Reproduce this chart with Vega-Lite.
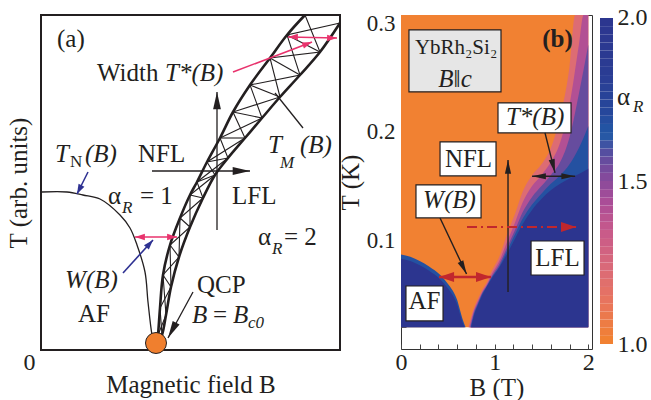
{
"$schema": "https://vega.github.io/schema/vega-lite/v6.json",
"padding": {"left": 5, "top": 5, "right": 0, "bottom": 0},
"background": "white",
"config": {
  "font": "Liberation Serif",
  "axis": {"grid": false, "labelFont": "Liberation Serif", "titleFont": "Liberation Serif", "labelColor": "#231f20", "titleColor": "#231f20", "titleFontWeight": "normal", "tickColor": "#444", "domainColor": "#444"},
  "text": {"font": "Liberation Serif", "color": "#231f20"}
},
"datasets": {
  "a_tn": [{"i":0,"x":1,"y":158},{"i":1,"x":26,"y":158},{"i":2,"x":42,"y":155},{"i":3,"x":59,"y":151},{"i":4,"x":79,"y":135},{"i":5,"x":89,"y":122},{"i":6,"x":96,"y":105},{"i":7,"x":104,"y":78},{"i":8,"x":107,"y":48},{"i":9,"x":111,"y":15},{"i":10,"x":113,"y":7}],
  "a_band": [
    {"s":"L","i":0,"x":264,"y":335},{"s":"L","i":1,"x":246,"y":315},{"s":"L","i":2,"x":229,"y":292},{"s":"L","i":3,"x":209,"y":265},{"s":"L","i":4,"x":192,"y":238},{"s":"L","i":5,"x":179,"y":212},{"s":"L","i":6,"x":166,"y":188},{"s":"L","i":7,"x":156,"y":168},{"s":"L","i":8,"x":149,"y":155},{"s":"L","i":9,"x":139,"y":132},{"s":"L","i":10,"x":129,"y":105},{"s":"L","i":11,"x":122,"y":75},{"s":"L","i":12,"x":119,"y":42},{"s":"L","i":13,"x":117,"y":15},{"s":"L","i":14,"x":116,"y":7},
    {"s":"R","i":0,"x":299,"y":327},{"s":"R","i":1,"x":279,"y":298},{"s":"R","i":2,"x":259,"y":275},{"s":"R","i":3,"x":239,"y":253},{"s":"R","i":4,"x":221,"y":232},{"s":"R","i":5,"x":204,"y":212},{"s":"R","i":6,"x":187,"y":192},{"s":"R","i":7,"x":174,"y":175},{"s":"R","i":8,"x":162,"y":152},{"s":"R","i":9,"x":149,"y":123},{"s":"R","i":10,"x":138,"y":93},{"s":"R","i":11,"x":130,"y":63},{"s":"R","i":12,"x":125,"y":35},{"s":"R","i":13,"x":121,"y":15},{"s":"R","i":14,"x":117,"y":7}
  ],
  "a_hatch": [
    {"s":"A","i":0,"x":264,"y":335},{"s":"A","i":1,"x":279,"y":298},{"s":"A","i":2,"x":229,"y":292},{"s":"A","i":3,"x":239,"y":253},{"s":"A","i":4,"x":192,"y":238},{"s":"A","i":5,"x":204,"y":212},{"s":"A","i":6,"x":166,"y":188},{"s":"A","i":7,"x":174,"y":175},{"s":"A","i":8,"x":149,"y":155},{"s":"A","i":9,"x":149,"y":123},{"s":"A","i":10,"x":129,"y":105},{"s":"A","i":11,"x":130,"y":63},{"s":"A","i":12,"x":119,"y":42},{"s":"A","i":13,"x":121,"y":15},{"s":"A","i":14,"x":116,"y":7},
    {"s":"B","i":0,"x":299,"y":327},{"s":"B","i":1,"x":246,"y":315},{"s":"B","i":2,"x":259,"y":275},{"s":"B","i":3,"x":209,"y":265},{"s":"B","i":4,"x":221,"y":232},{"s":"B","i":5,"x":179,"y":212},{"s":"B","i":6,"x":187,"y":192},{"s":"B","i":7,"x":156,"y":168},{"s":"B","i":8,"x":162,"y":152},{"s":"B","i":9,"x":139,"y":132},{"s":"B","i":10,"x":138,"y":93},{"s":"B","i":11,"x":122,"y":75},{"s":"B","i":12,"x":125,"y":35},{"s":"B","i":13,"x":117,"y":15},{"s":"B","i":14,"x":117,"y":7},
    {"s":"r1","i":0,"x":246,"y":315},{"s":"r1","i":1,"x":279,"y":298},
    {"s":"r2","i":0,"x":229,"y":292},{"s":"r2","i":1,"x":259,"y":275},
    {"s":"r3","i":0,"x":209,"y":265},{"s":"r3","i":1,"x":239,"y":253},
    {"s":"r4","i":0,"x":192,"y":238},{"s":"r4","i":1,"x":221,"y":232},
    {"s":"r5","i":0,"x":179,"y":212},{"s":"r5","i":1,"x":204,"y":212},
    {"s":"r6","i":0,"x":166,"y":188},{"s":"r6","i":1,"x":187,"y":192},
    {"s":"r7","i":0,"x":156,"y":168},{"s":"r7","i":1,"x":174,"y":175},
    {"s":"r8","i":0,"x":149,"y":155},{"s":"r8","i":1,"x":162,"y":152},
    {"s":"r9","i":0,"x":139,"y":132},{"s":"r9","i":1,"x":149,"y":123},
    {"s":"r10","i":0,"x":129,"y":105},{"s":"r10","i":1,"x":138,"y":93},
    {"s":"r11","i":0,"x":122,"y":75},{"s":"r11","i":1,"x":130,"y":63}
  ],
  "a_blk": [
    {"s":"up","i":0,"x":176,"y":120},{"s":"up","i":1,"x":176,"y":258},
    {"s":"rt","i":0,"x":111,"y":179},{"s":"rt","i":1,"x":209,"y":179},
    {"s":"tm","i":0,"x":262,"y":222},{"s":"tm","i":1,"x":234,"y":257},
    {"s":"qcp","i":0,"x":152,"y":58},{"s":"qcp","i":1,"x":127,"y":12}
  ],
  "a_hblk": [{"x":176,"y":258,"dir":0},{"x":209,"y":179,"dir":90},{"x":127,"y":12,"dir":208}],
  "a_pink": [
    {"s":"top","i":0,"x":247,"y":313},{"s":"top","i":1,"x":296,"y":312},
    {"s":"ptr","i":0,"x":192,"y":278},{"s":"ptr","i":1,"x":271,"y":308},
    {"s":"w","i":0,"x":94,"y":113},{"s":"w","i":1,"x":136,"y":113}
  ],
  "a_hpink": [{"x":247,"y":313,"dir":270},{"x":296,"y":312,"dir":90},{"x":271,"y":308,"dir":69},{"x":94,"y":113,"dir":270},{"x":136,"y":113,"dir":90}],
  "a_blue": [
    {"s":"tn","i":0,"x":47,"y":178},{"s":"tn","i":1,"x":36,"y":156},
    {"s":"w","i":0,"x":82,"y":77},{"s":"w","i":1,"x":112,"y":110}
  ],
  "a_hblue": [{"x":36,"y":156,"dir":207},{"x":112,"y":110,"dir":42}],
  "a_qcp": [{"x":115,"y":7}],
  "a_norm": [{"t":"(a)","x":16,"y":303},{"t":"Width","x":56,"y":269},{"t":"NFL","x":97,"y":188},{"t":"α","x":67,"y":146},{"t":"= 1","x":99,"y":146},{"t":"LFL","x":191,"y":146},{"t":"α","x":217,"y":105},{"t":"= 2","x":243,"y":105},{"t":"AF","x":37,"y":28},{"t":"QCP","x":156,"y":57},{"t":"=","x":172,"y":27}],
  "a_ital": [{"t":"T*(B)","x":124,"y":269},{"t":"T","x":14,"y":188},{"t":"(B)","x":44,"y":188},{"t":"T","x":227,"y":197},{"t":"(B)","x":259,"y":197},{"t":"W(B)","x":24,"y":62},{"t":"B","x":151,"y":27},{"t":"B","x":192,"y":27}],
  "a_subn": [{"t":"N","x":29,"y":183}],
  "a_subi": [{"t":"M","x":239,"y":182},{"t":"R","x":81,"y":137},{"t":"R","x":231,"y":96},{"t":"c0","x":207,"y":22}],
  "bg": [{"B":0,"B2":2,"T":0.02,"T2":0.3074,"a":1}],
  "h1": [{"s":"R","lvl":1.2,"B":0.72,"T":0.02},{"s":"R","lvl":1.2,"B":0.75,"T":0.03},{"s":"R","lvl":1.2,"B":0.78,"T":0.038},{"s":"R","lvl":1.2,"B":0.82,"T":0.046},{"s":"R","lvl":1.2,"B":0.87,"T":0.055},{"s":"R","lvl":1.2,"B":0.92,"T":0.062},{"s":"R","lvl":1.2,"B":0.97,"T":0.072},{"s":"R","lvl":1.2,"B":1.05,"T":0.085},{"s":"R","lvl":1.2,"B":1.13,"T":0.105},{"s":"R","lvl":1.2,"B":1.22,"T":0.125},{"s":"R","lvl":1.2,"B":1.3,"T":0.145},{"s":"R","lvl":1.2,"B":1.4,"T":0.16},{"s":"R","lvl":1.2,"B":1.5,"T":0.17},{"s":"R","lvl":1.2,"B":1.6,"T":0.185},{"s":"R","lvl":1.2,"B":1.7,"T":0.214},{"s":"R","lvl":1.2,"B":1.8,"T":0.26},{"s":"R","lvl":1.2,"B":1.86,"T":0.3074},{"s":"R","lvl":1.2,"B":2,"T":0.3074}],
  "h2": [{"s":"R","lvl":1.4,"B":0.73,"T":0.02},{"s":"R","lvl":1.4,"B":0.75,"T":0.027},{"s":"R","lvl":1.4,"B":0.78,"T":0.036},{"s":"R","lvl":1.4,"B":0.82,"T":0.044},{"s":"R","lvl":1.4,"B":0.87,"T":0.053},{"s":"R","lvl":1.4,"B":0.92,"T":0.06},{"s":"R","lvl":1.4,"B":0.97,"T":0.069},{"s":"R","lvl":1.4,"B":1.05,"T":0.081},{"s":"R","lvl":1.4,"B":1.13,"T":0.098},{"s":"R","lvl":1.4,"B":1.22,"T":0.117},{"s":"R","lvl":1.4,"B":1.3,"T":0.135},{"s":"R","lvl":1.4,"B":1.4,"T":0.15},{"s":"R","lvl":1.4,"B":1.5,"T":0.16},{"s":"R","lvl":1.4,"B":1.6,"T":0.172},{"s":"R","lvl":1.4,"B":1.7,"T":0.19},{"s":"R","lvl":1.4,"B":1.8,"T":0.225},{"s":"R","lvl":1.4,"B":1.9,"T":0.28},{"s":"R","lvl":1.4,"B":1.95,"T":0.3074},{"s":"R","lvl":1.4,"B":2,"T":0.3074}],
  "h3": [{"s":"R","lvl":1.55,"B":0.74,"T":0.02},{"s":"R","lvl":1.55,"B":0.78,"T":0.034},{"s":"R","lvl":1.55,"B":0.82,"T":0.042},{"s":"R","lvl":1.55,"B":0.87,"T":0.052},{"s":"R","lvl":1.55,"B":0.92,"T":0.059},{"s":"R","lvl":1.55,"B":0.97,"T":0.067},{"s":"R","lvl":1.55,"B":1.05,"T":0.078},{"s":"R","lvl":1.55,"B":1.13,"T":0.093},{"s":"R","lvl":1.55,"B":1.22,"T":0.11},{"s":"R","lvl":1.55,"B":1.3,"T":0.126},{"s":"R","lvl":1.55,"B":1.4,"T":0.14},{"s":"R","lvl":1.55,"B":1.5,"T":0.15},{"s":"R","lvl":1.55,"B":1.6,"T":0.16},{"s":"R","lvl":1.55,"B":1.7,"T":0.172},{"s":"R","lvl":1.55,"B":1.8,"T":0.195},{"s":"R","lvl":1.55,"B":1.9,"T":0.235},{"s":"R","lvl":1.55,"B":2,"T":0.28}],
  "h4": [{"s":"R","lvl":1.66,"B":0.745,"T":0.02},{"s":"R","lvl":1.66,"B":0.78,"T":0.032},{"s":"R","lvl":1.66,"B":0.82,"T":0.041},{"s":"R","lvl":1.66,"B":0.87,"T":0.051},{"s":"R","lvl":1.66,"B":0.92,"T":0.058},{"s":"R","lvl":1.66,"B":0.97,"T":0.066},{"s":"R","lvl":1.66,"B":1.05,"T":0.076},{"s":"R","lvl":1.66,"B":1.13,"T":0.09},{"s":"R","lvl":1.66,"B":1.22,"T":0.106},{"s":"R","lvl":1.66,"B":1.3,"T":0.12},{"s":"R","lvl":1.66,"B":1.4,"T":0.133},{"s":"R","lvl":1.66,"B":1.5,"T":0.143},{"s":"R","lvl":1.66,"B":1.6,"T":0.152},{"s":"R","lvl":1.66,"B":1.7,"T":0.16},{"s":"R","lvl":1.66,"B":1.8,"T":0.17},{"s":"R","lvl":1.66,"B":1.9,"T":0.185},{"s":"R","lvl":1.66,"B":2,"T":0.205},
    {"s":"L","lvl":1.66,"B":0,"T":0.087},{"s":"L","lvl":1.66,"B":0.1,"T":0.085},{"s":"L","lvl":1.66,"B":0.2,"T":0.081},{"s":"L","lvl":1.66,"B":0.3,"T":0.076},{"s":"L","lvl":1.66,"B":0.42,"T":0.068},{"s":"L","lvl":1.66,"B":0.5,"T":0.06},{"s":"L","lvl":1.66,"B":0.55,"T":0.054},{"s":"L","lvl":1.66,"B":0.6,"T":0.045},{"s":"L","lvl":1.66,"B":0.63,"T":0.036},{"s":"L","lvl":1.66,"B":0.66,"T":0.027},{"s":"L","lvl":1.66,"B":0.69,"T":0.02}],
  "h5": [{"s":"R","lvl":2,"B":0.75,"T":0.02},{"s":"R","lvl":2,"B":0.78,"T":0.031},{"s":"R","lvl":2,"B":0.82,"T":0.04},{"s":"R","lvl":2,"B":0.87,"T":0.05},{"s":"R","lvl":2,"B":0.92,"T":0.058},{"s":"R","lvl":2,"B":0.97,"T":0.065},{"s":"R","lvl":2,"B":1.05,"T":0.075},{"s":"R","lvl":2,"B":1.13,"T":0.087},{"s":"R","lvl":2,"B":1.22,"T":0.102},{"s":"R","lvl":2,"B":1.3,"T":0.115},{"s":"R","lvl":2,"B":1.4,"T":0.128},{"s":"R","lvl":2,"B":1.5,"T":0.138},{"s":"R","lvl":2,"B":1.6,"T":0.146},{"s":"R","lvl":2,"B":1.7,"T":0.152},{"s":"R","lvl":2,"B":1.8,"T":0.157},{"s":"R","lvl":2,"B":1.9,"T":0.161},{"s":"R","lvl":2,"B":2,"T":0.166},
    {"s":"L","lvl":2,"B":0,"T":0.083},{"s":"L","lvl":2,"B":0.1,"T":0.081},{"s":"L","lvl":2,"B":0.2,"T":0.077},{"s":"L","lvl":2,"B":0.3,"T":0.072},{"s":"L","lvl":2,"B":0.42,"T":0.064},{"s":"L","lvl":2,"B":0.5,"T":0.056},{"s":"L","lvl":2,"B":0.55,"T":0.05},{"s":"L","lvl":2,"B":0.6,"T":0.041},{"s":"L","lvl":2,"B":0.63,"T":0.032},{"s":"L","lvl":2,"B":0.66,"T":0.024},{"s":"L","lvl":2,"B":0.68,"T":0.02}],
  "b_box": [{"B":1.036,"B2":1.816,"T":0.2265,"T2":0.1989},{"B":0.417,"B2":1.015,"T":0.1906,"T2":0.1593},{"B":0.16,"B2":0.855,"T":0.151,"T2":0.1206},{"B":0.053,"B2":0.449,"T":0.058,"T2":0.0258},{"B":1.389,"B2":1.955,"T":0.0994,"T2":0.0681}],
  "b_gbox": [{"B":0.085,"B2":1.068,"T":0.2937,"T2":0.2367}],
  "b_blk": [
    {"s":"up","i":0,"B":1.143,"T":0.0525},{"s":"up","i":1,"B":1.143,"T":0.174},
    {"s":"dbl","i":0,"B":1.4,"T":0.159},{"s":"dbl","i":1,"B":1.86,"T":0.159},
    {"s":"tp","i":0,"B":1.538,"T":0.1989},{"s":"tp","i":1,"B":1.645,"T":0.1621},
    {"s":"wp","i":0,"B":0.417,"T":0.1206},{"s":"wp","i":1,"B":0.7,"T":0.069}
  ],
  "b_hblk": [{"B":1.143,"T":0.174,"dir":0},{"B":1.4,"T":0.159,"dir":270},{"B":1.86,"T":0.159,"dir":90},{"B":1.645,"T":0.1621,"dir":166},{"B":0.7,"T":0.069,"dir":154}],
  "b_red": [{"s":"w","i":0,"B":0.406,"T":0.0663},{"s":"w","i":1,"B":0.962,"T":0.0663}],
  "b_reddash": [{"s":"d","i":0,"B":0.705,"T":0.1123},{"s":"d","i":1,"B":1.87,"T":0.1123}],
  "b_hred": [{"B":0.406,"T":0.0663,"dir":270},{"B":0.962,"T":0.0663,"dir":90},{"B":1.87,"T":0.1123,"dir":90}],
  "b_norm": [{"t":"NFL","B":0.721,"T":0.1676},{"t":"AF","B":0.251,"T":0.0368},{"t":"LFL","B":1.672,"T":0.0764}],
  "b_ital": [{"t":"T*(B)","B":1.432,"T":0.2063},{"t":"W(B)","B":0.518,"T":0.1298},{"t":"B‖c","B":0.577,"T":0.2413}],
  "b_form": [{"t":"YbRh₂Si₂","B":0.588,"T":0.2716}],
  "b_bold": [{"t":"(b)","B":1.672,"T":0.278}],
  "cb": [{"a":1,"a2":1.025},{"a":1.025,"a2":1.05},{"a":1.05,"a2":1.075},{"a":1.075,"a2":1.1},{"a":1.1,"a2":1.125},{"a":1.125,"a2":1.15},{"a":1.15,"a2":1.175},{"a":1.175,"a2":1.2},{"a":1.2,"a2":1.225},{"a":1.225,"a2":1.25},{"a":1.25,"a2":1.275},{"a":1.275,"a2":1.3},{"a":1.3,"a2":1.325},{"a":1.325,"a2":1.35},{"a":1.35,"a2":1.375},{"a":1.375,"a2":1.4},{"a":1.4,"a2":1.425},{"a":1.425,"a2":1.45},{"a":1.45,"a2":1.475},{"a":1.475,"a2":1.5},{"a":1.5,"a2":1.525},{"a":1.525,"a2":1.55},{"a":1.55,"a2":1.575},{"a":1.575,"a2":1.6},{"a":1.6,"a2":1.625},{"a":1.625,"a2":1.65},{"a":1.65,"a2":1.675},{"a":1.675,"a2":1.7},{"a":1.7,"a2":1.725},{"a":1.725,"a2":1.75},{"a":1.75,"a2":1.775},{"a":1.775,"a2":1.8},{"a":1.8,"a2":1.825},{"a":1.825,"a2":1.85},{"a":1.85,"a2":1.875},{"a":1.875,"a2":1.9},{"a":1.9,"a2":1.925},{"a":1.925,"a2":1.95},{"a":1.95,"a2":1.975},{"a":1.975,"a2":2}],
  "cb_alpha": [{"t":"α","x":1.308,"a":1.733}],
  "cb_r": [{"t":"R","x":2.54,"a":1.712}]
},
"hconcat": [
  {
    "width": 299, "height": 335,
    "view": {"stroke": "#231f20", "strokeWidth": 2},
    "encoding": {
      "x": {"field": "x", "type": "quantitative", "scale": {"domain": [0, 299], "nice": false, "zero": false},
            "axis": {"values": [0], "labelExpr": "'0'", "labelFlush": false, "ticks": false, "domain": false, "labelOffset": -12, "labelPadding": 0, "labelFontSize": 24, "title": "Magnetic field B", "titleFontSize": 25, "titlePadding": -2}},
      "y": {"field": "y", "type": "quantitative", "scale": {"domain": [0, 335], "nice": false, "zero": false},
            "axis": {"labels": false, "ticks": false, "domain": false, "title": "T (arb. units)", "titleFontSize": 25, "titlePadding": 10}}
    },
    "layer": [
      {"data": {"name": "a_tn"}, "mark": {"type": "line", "color": "#231f20", "strokeWidth": 1.3, "interpolate": "catmull-rom"}, "encoding": {"order": {"field": "i", "type": "quantitative"}}},
      {"data": {"name": "a_hatch"}, "mark": {"type": "line", "color": "#231f20", "strokeWidth": 1.1}, "encoding": {"detail": {"field": "s"}, "order": {"field": "i", "type": "quantitative"}}},
      {"data": {"name": "a_band"}, "mark": {"type": "line", "color": "#231f20", "strokeWidth": 2.6, "interpolate": "catmull-rom"}, "encoding": {"detail": {"field": "s"}, "order": {"field": "i", "type": "quantitative"}}},
      {"data": {"name": "a_blk"}, "mark": {"type": "line", "color": "#231f20", "strokeWidth": 1.3}, "encoding": {"detail": {"field": "s"}, "order": {"field": "i", "type": "quantitative"}}},
      {"data": {"name": "a_pink"}, "mark": {"type": "line", "color": "#e8336d", "strokeWidth": 1.6}, "encoding": {"detail": {"field": "s"}, "order": {"field": "i", "type": "quantitative"}}},
      {"data": {"name": "a_blue"}, "mark": {"type": "line", "color": "#2e3192", "strokeWidth": 1.6}, "encoding": {"detail": {"field": "s"}, "order": {"field": "i", "type": "quantitative"}}},
      {"data": {"name": "a_qcp"}, "mark": {"type": "point", "shape": "circle", "filled": true, "size": 440, "fill": "#f07f2e", "stroke": "#231f20", "strokeWidth": 1, "opacity": 1}},
      {"data": {"name": "a_hblk"}, "mark": {"type": "point", "shape": "M0,0L0.45,2L-0.45,2Z", "filled": true, "size": 300, "color": "#231f20", "opacity": 1, "strokeWidth": 0}, "encoding": {"angle": {"field": "dir", "type": "quantitative", "scale": null}}},
      {"data": {"name": "a_hpink"}, "mark": {"type": "point", "shape": "M0,0L0.6,1.8L-0.6,1.8Z", "filled": true, "size": 120, "color": "#e8336d", "opacity": 1, "strokeWidth": 0}, "encoding": {"angle": {"field": "dir", "type": "quantitative", "scale": null}}},
      {"data": {"name": "a_hblue"}, "mark": {"type": "point", "shape": "M0,0L0.6,1.8L-0.6,1.8Z", "filled": true, "size": 120, "color": "#2e3192", "opacity": 1, "strokeWidth": 0}, "encoding": {"angle": {"field": "dir", "type": "quantitative", "scale": null}}},
      {"data": {"name": "a_norm"}, "mark": {"type": "text", "align": "left", "baseline": "alphabetic", "fontSize": 25, "color": "#231f20"}, "encoding": {"text": {"field": "t"}}},
      {"data": {"name": "a_ital"}, "mark": {"type": "text", "align": "left", "baseline": "alphabetic", "fontSize": 25, "fontStyle": "italic", "color": "#231f20"}, "encoding": {"text": {"field": "t"}}},
      {"data": {"name": "a_subn"}, "mark": {"type": "text", "align": "left", "baseline": "alphabetic", "fontSize": 17, "color": "#231f20"}, "encoding": {"text": {"field": "t"}}},
      {"data": {"name": "a_subi"}, "mark": {"type": "text", "align": "left", "baseline": "alphabetic", "fontSize": 17, "fontStyle": "italic", "color": "#231f20"}, "encoding": {"text": {"field": "t"}}}
    ]
  },
  {
    "spacing": 8,
    "bounds": "flush",
    "hconcat": [
      {
        "width": 191, "height": 334,
        "view": {"stroke": "#333", "strokeWidth": 1},
        "encoding": {
          "x": {"field": "B", "type": "quantitative", "scale": {"domain": [0, 2.04], "nice": false, "zero": false},
                "axis": {"values": [0, 0.2, 0.4, 0.6, 0.8, 1, 1.2, 1.4, 1.6, 1.8, 2], "format": ".0f", "labelExpr": "datum.value == 0 || datum.value == 1 || datum.value == 2 ? datum.label : ''", "labelFlush": false, "tickSize": -5, "domain": false, "labelPadding": 6, "labelFontSize": 24, "title": "B (T)", "titleFontSize": 25, "titlePadding": 1}},
          "y": {"field": "T", "type": "quantitative", "stack": null, "scale": {"domain": [0, 0.3074], "nice": false, "zero": false},
                "axis": {"values": [0.02, 0.04, 0.06, 0.08, 0.1, 0.12, 0.14, 0.16, 0.18, 0.2, 0.22, 0.24, 0.26, 0.28, 0.3], "format": ".1f", "labelExpr": "datum.value == 0.1 || datum.value == 0.2 || datum.value == 0.3 ? datum.label : ''", "tickSize": -5, "domain": false, "labelPadding": 11, "labelFontSize": 23, "title": "T (K)", "titleFontSize": 25, "titlePadding": 3}}
        },
        "layer": [
          {"data": {"name": "bg"}, "mark": {"type": "rect"}, "encoding": {"x2": {"field": "B2"}, "y2": {"field": "T2"}, "color": {"field": "a", "type": "quantitative", "legend": null, "scale": {"domain": [1, 1.12, 1.22, 1.33, 1.43, 1.51, 1.57, 1.63, 1.7, 1.84, 2], "range": ["#f18132", "#e8745e", "#da6a78", "#c85a8a", "#a84c98", "#7e4a9c", "#5a4d9f", "#2259a6", "#26479b", "#2b3b92", "#2c358f"], "interpolate": "rgb"}}}},
          {"data": {"name": "h1"}, "mark": {"type": "area", "interpolate": "monotone"}, "encoding": {"y2": {"datum": 0.02}, "detail": {"field": "s"}, "color": {"field": "lvl", "type": "quantitative", "legend": null, "scale": {"domain": [1, 1.12, 1.22, 1.33, 1.43, 1.51, 1.57, 1.63, 1.7, 1.84, 2], "range": ["#f18132", "#e8745e", "#da6a78", "#c85a8a", "#a84c98", "#7e4a9c", "#5a4d9f", "#2259a6", "#26479b", "#2b3b92", "#2c358f"], "interpolate": "rgb"}}}},
          {"data": {"name": "h2"}, "mark": {"type": "area", "interpolate": "monotone"}, "encoding": {"y2": {"datum": 0.02}, "detail": {"field": "s"}, "color": {"field": "lvl", "type": "quantitative", "legend": null, "scale": {"domain": [1, 1.12, 1.22, 1.33, 1.43, 1.51, 1.57, 1.63, 1.7, 1.84, 2], "range": ["#f18132", "#e8745e", "#da6a78", "#c85a8a", "#a84c98", "#7e4a9c", "#5a4d9f", "#2259a6", "#26479b", "#2b3b92", "#2c358f"], "interpolate": "rgb"}}}},
          {"data": {"name": "h3"}, "mark": {"type": "area", "interpolate": "monotone"}, "encoding": {"y2": {"datum": 0.02}, "detail": {"field": "s"}, "color": {"field": "lvl", "type": "quantitative", "legend": null, "scale": {"domain": [1, 1.12, 1.22, 1.33, 1.43, 1.51, 1.57, 1.63, 1.7, 1.84, 2], "range": ["#f18132", "#e8745e", "#da6a78", "#c85a8a", "#a84c98", "#7e4a9c", "#5a4d9f", "#2259a6", "#26479b", "#2b3b92", "#2c358f"], "interpolate": "rgb"}}}},
          {"data": {"name": "h4"}, "mark": {"type": "area", "interpolate": "monotone"}, "encoding": {"y2": {"datum": 0.02}, "detail": {"field": "s"}, "color": {"field": "lvl", "type": "quantitative", "legend": null, "scale": {"domain": [1, 1.12, 1.22, 1.33, 1.43, 1.51, 1.57, 1.63, 1.7, 1.84, 2], "range": ["#f18132", "#e8745e", "#da6a78", "#c85a8a", "#a84c98", "#7e4a9c", "#5a4d9f", "#2259a6", "#26479b", "#2b3b92", "#2c358f"], "interpolate": "rgb"}}}},
          {"data": {"name": "h5"}, "mark": {"type": "area", "interpolate": "monotone"}, "encoding": {"y2": {"datum": 0.02}, "detail": {"field": "s"}, "color": {"field": "lvl", "type": "quantitative", "legend": null, "scale": {"domain": [1, 1.12, 1.22, 1.33, 1.43, 1.51, 1.57, 1.63, 1.7, 1.84, 2], "range": ["#f18132", "#e8745e", "#da6a78", "#c85a8a", "#a84c98", "#7e4a9c", "#5a4d9f", "#2259a6", "#26479b", "#2b3b92", "#2c358f"], "interpolate": "rgb"}}}},
          {"data": {"name": "b_gbox"}, "mark": {"type": "rect", "fill": "#e6e6e6", "stroke": "#231f20", "strokeWidth": 1.2}, "encoding": {"x2": {"field": "B2"}, "y2": {"field": "T2"}}},
          {"data": {"name": "b_box"}, "mark": {"type": "rect", "fill": "white", "stroke": "#231f20", "strokeWidth": 1.2}, "encoding": {"x2": {"field": "B2"}, "y2": {"field": "T2"}}},
          {"data": {"name": "b_blk"}, "mark": {"type": "line", "color": "#231f20", "strokeWidth": 1.4}, "encoding": {"detail": {"field": "s"}, "order": {"field": "i", "type": "quantitative"}}},
          {"data": {"name": "b_red"}, "mark": {"type": "line", "color": "#c1272d", "strokeWidth": 2.5}, "encoding": {"detail": {"field": "s"}, "order": {"field": "i", "type": "quantitative"}}},
          {"data": {"name": "b_reddash"}, "mark": {"type": "line", "color": "#c1272d", "strokeWidth": 2, "strokeDash": [10, 4, 2, 4]}, "encoding": {"detail": {"field": "s"}, "order": {"field": "i", "type": "quantitative"}}},
          {"data": {"name": "b_hblk"}, "mark": {"type": "point", "shape": "M0,0L0.45,2L-0.45,2Z", "filled": true, "size": 190, "color": "#231f20", "opacity": 1, "strokeWidth": 0}, "encoding": {"angle": {"field": "dir", "type": "quantitative", "scale": null}}},
          {"data": {"name": "b_hred"}, "mark": {"type": "point", "shape": "M0,0L0.6,1.8L-0.6,1.8Z", "filled": true, "size": 280, "color": "#c1272d", "opacity": 1, "strokeWidth": 0}, "encoding": {"angle": {"field": "dir", "type": "quantitative", "scale": null}}},
          {"data": {"name": "b_norm"}, "mark": {"type": "text", "align": "center", "baseline": "alphabetic", "fontSize": 25, "color": "#231f20"}, "encoding": {"text": {"field": "t"}}},
          {"data": {"name": "b_ital"}, "mark": {"type": "text", "align": "center", "baseline": "alphabetic", "fontSize": 25, "fontStyle": "italic", "color": "#231f20"}, "encoding": {"text": {"field": "t"}}},
          {"data": {"name": "b_form"}, "mark": {"type": "text", "align": "center", "baseline": "alphabetic", "fontSize": 21, "color": "#231f20"}, "encoding": {"text": {"field": "t"}}},
          {"data": {"name": "b_bold"}, "mark": {"type": "text", "align": "center", "baseline": "alphabetic", "fontSize": 25, "fontWeight": "bold", "color": "#231f20"}, "encoding": {"text": {"field": "t"}}}
        ]
      },
      {
        "width": 13, "height": 334,
        "view": {"stroke": null},
        "encoding": {
          "y": {"field": "a", "type": "quantitative", "scale": {"domain": [0.9847, 2.0092], "nice": false, "zero": false},
                "axis": {"orient": "right", "values": [1, 1.5, 2], "format": ".1f", "ticks": false, "domain": false, "labelPadding": 4, "labelFontSize": 24, "title": null}}
        },
        "layer": [
          {"data": {"name": "cb"}, "mark": {"type": "rect"},
           "encoding": {
             "x": {"datum": 0, "type": "quantitative", "scale": {"domain": [0, 1], "nice": false, "zero": false}, "axis": null},
             "x2": {"datum": 1},
             "y2": {"field": "a2"},
             "color": {"field": "a", "type": "quantitative", "legend": null, "scale": {"domain": [1, 1.12, 1.22, 1.33, 1.43, 1.51, 1.57, 1.63, 1.7, 1.84, 2], "range": ["#f18132", "#e8745e", "#da6a78", "#c85a8a", "#a84c98", "#7e4a9c", "#5a4d9f", "#2259a6", "#26479b", "#2b3b92", "#2c358f"], "interpolate": "rgb"}}
           }},
          {"data": {"name": "cb_alpha"}, "mark": {"type": "text", "align": "left", "baseline": "alphabetic", "fontSize": 25, "color": "#231f20"},
           "encoding": {"x": {"field": "x", "type": "quantitative", "scale": {"domain": [0, 1], "nice": false, "zero": false}, "axis": null}, "text": {"field": "t"}}},
          {"data": {"name": "cb_r"}, "mark": {"type": "text", "align": "left", "baseline": "alphabetic", "fontSize": 17, "fontStyle": "italic", "color": "#231f20"},
           "encoding": {"x": {"field": "x", "type": "quantitative", "scale": {"domain": [0, 1], "nice": false, "zero": false}, "axis": null}, "text": {"field": "t"}}}
        ]
      }
    ]
  }
],
"spacing": 61,
"bounds": "flush"
}
